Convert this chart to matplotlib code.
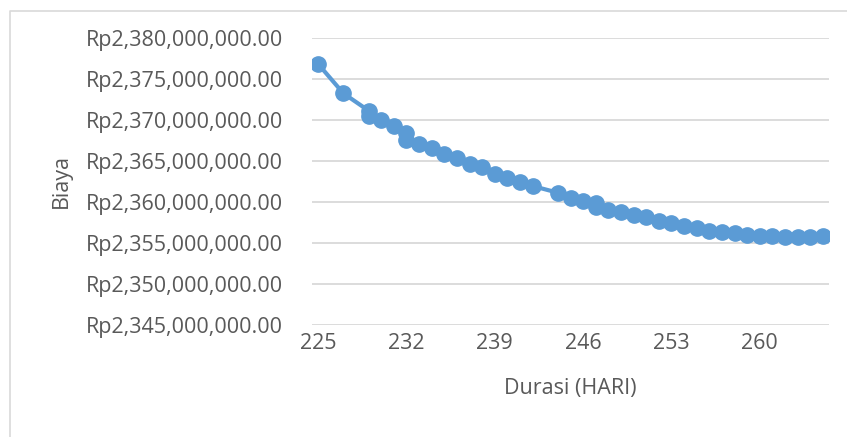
import matplotlib.pyplot as plt
from matplotlib.ticker import FuncFormatter
from matplotlib.lines import Line2D

plt.rcParams['font.family'] = ['Open Sans', 'DejaVu Sans']

# Durasi (hari) dan biaya (juta rupiah)
durasi = [225, 227, 229, 229, 230, 231, 232, 232, 233, 234, 235, 236, 237, 238,
          239, 240, 241, 242, 244, 245, 246, 247, 247, 248, 249, 250, 251, 252,
          253, 254, 255, 256, 257, 258, 259, 260, 261, 262, 263, 264, 265]
biaya_juta = [2376.84, 2373.26, 2371.14, 2370.47, 2369.99, 2369.26, 2368.47, 2367.62,
              2367.08, 2366.61, 2365.89, 2365.32, 2364.65, 2364.22, 2363.43, 2362.95,
              2362.44, 2361.95, 2361.13, 2360.52, 2360.10, 2359.92, 2359.44, 2359.07,
              2358.76, 2358.46, 2358.22, 2357.73, 2357.43, 2357.10, 2356.82, 2356.49,
              2356.30, 2356.18, 2356.01, 2355.89, 2355.81, 2355.76, 2355.76, 2355.76,
              2355.81]
biaya = [b * 1e6 for b in biaya_juta]
x_ticks = [225, 232, 239, 246, 253, 260]

W, H = 847, 437
fig = plt.figure(figsize=(W / 100, H / 100), dpi=100)
# bingkai grafik (hanya sisi kiri dan atas yang terlihat)
fig.lines.append(Line2D([9.5 / W, 9.5 / W, 1.0], [0.0, 1 - 10.5 / H, 1 - 10.5 / H],
                        transform=fig.transFigure, color='#d9d9d9', linewidth=1.2))

ax = fig.add_axes([312.4 / W, 1 - 325 / H, (828.6 - 312.4) / W, (325 - 38) / H])
ax.plot(durasi, biaya, color='#5b9bd5', linewidth=3, marker='o', markersize=11,
        zorder=3)

ax.set_xlim(224.55, 265.45)
ax.set_ylim(2.345e9, 2.380e9)
ax.set_xticks(x_ticks)
ax.set_yticks([2.345e9 + i * 5e6 for i in range(8)])
ax.yaxis.set_major_formatter(FuncFormatter(lambda v, p: f"Rp{v:,.2f}"))
ax.grid(axis='y', color='#d9d9d9', linewidth=1.3)
ax.set_axisbelow(True)
for s in ax.spines.values():
    s.set_visible(False)
ax.tick_params(length=0, labelsize=15.5, labelcolor='#595959')
ax.tick_params(axis='y', pad=21)
ax.tick_params(axis='x', pad=6)

ax.set_xlabel('Durasi (HARI)', fontsize=15.5, color='#595959', labelpad=17)
ax.set_ylabel('Biaya', fontsize=15.5, color='#595959', labelpad=10)

fig.savefig('out.png', dpi=100)
